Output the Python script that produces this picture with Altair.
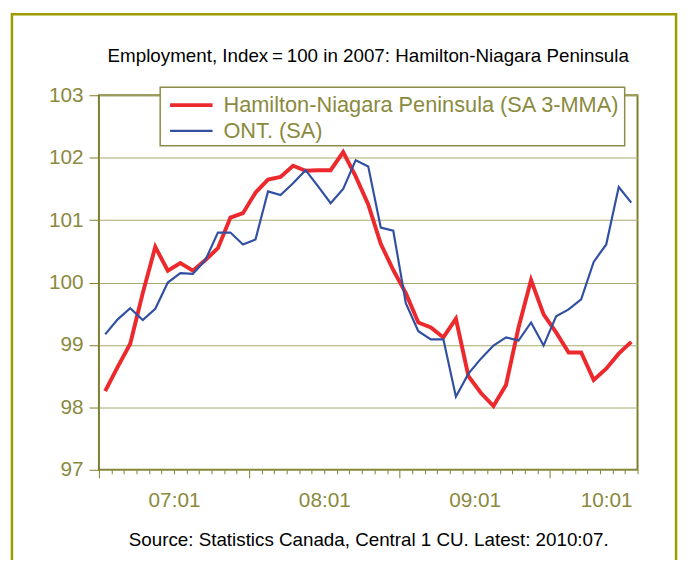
import altair as alt
import pandas as pd

# ---- data ----
months = [f"{y}:{m:02d}" for y in (2007, 2008, 2009, 2010) for m in range(1, 13)][:43]

hamilton = [98.26, 98.65, 99.02, 99.83, 100.57, 100.19, 100.31, 100.19, 100.36, 100.55,
            101.04, 101.11, 101.44, 101.65, 101.69, 101.87, 101.79, 101.80, 101.80, 102.09,
            101.70, 101.25, 100.62, 100.20, 99.83, 99.36, 99.28, 99.12, 99.42, 98.50,
            98.23, 98.02, 98.36, 99.28, 100.04, 99.49, 99.20, 98.88, 98.88, 98.44,
            98.62, 98.86, 99.05]

ontario = [99.17, 99.41, 99.59, 99.40, 99.58, 100.00, 100.15, 100.14, 100.36, 100.80,
           100.80, 100.61, 100.69, 101.46, 101.40, 101.59, 101.80, 101.54, 101.27, 101.50,
           101.96, 101.86, 100.88, 100.83, 99.67, 99.22, 99.09, 99.09, 98.17, 98.54,
           98.78, 98.99, 99.12, 99.07, 99.36, 98.99, 99.46, 99.57, 99.73, 100.33,
           100.61, 101.53, 101.28]

series_names = ["Hamilton-Niagara Peninsula (SA 3-MMA)", "ONT. (SA)"]
series_colors = ["#EC2A2E", "#3150A2"]
series_widths = [4, 2.2]

x_tick_labels = ["07:01", "08:01", "09:01", "10:01"]
y_ticks = [97, 98, 99, 100, 101, 102, 103]

title_text = "Employment, Index\u2009=\u2009100 in 2007: Hamilton-Niagara Peninsula"
source_text = "Source: Statistics Canada, Central 1 CU. Latest: 2010:07."

# ---- tables ----
rows = []
for name, vals in zip(series_names, [hamilton, ontario]):
    for i, (m, v) in enumerate(zip(months, vals)):
        rows.append({"idx": i, "month": m, "series": name, "value": v})
df = pd.DataFrame(rows)
legend_df = pd.DataFrame({"series": series_names})

n = len(months)
boundaries = [i - 0.5 for i in range(n + 1)]
label_expr = " : ".join(
    f"datum.value == {12 * k - 0.5} ? '{lab}'" for k, lab in enumerate(x_tick_labels)
) + " : ''"
last_major = 12 * (len(x_tick_labels) - 1) - 0.5

OLIVE_TXT = "#8A8A3E"
OLIVE_AX = "#7E7E2C"
OLIVE_GRID = "#A8A870"
FONT = "Liberation Sans"

color_scale = alt.Scale(domain=series_names, range=series_colors)
width_scale = alt.Scale(domain=series_names, range=series_widths)

lines = alt.Chart(df).mark_line(clip=True).encode(
    x=alt.X("idx:Q",
            scale=alt.Scale(domain=[-0.5, n - 0.5], nice=False, zero=False),
            axis=alt.Axis(values=boundaries, labelExpr=label_expr,
                          labelOffset={"condition": {"test": f"datum.value == {last_major}", "value": 57},
                                       "value": 76},
                          labelFlush=False, labelOverlap=False,
                          tickSize={"condition": {"test": "(datum.value + 0.5) % 12 == 0", "value": 8},
                                    "value": 4},
                          tickColor=OLIVE_AX, tickWidth=1, domain=False, grid=False,
                          labelColor=OLIVE_TXT, labelFontSize=21, labelFont=FONT, labelPadding=12,
                          title=source_text, titleColor="#000000", titleFontSize=19,
                          titleFont=FONT, titleFontWeight="normal", titlePadding=21)),
    y=alt.Y("value:Q",
            scale=alt.Scale(domain=[97, 103], nice=False, zero=False),
            axis=alt.Axis(values=y_ticks, tickSize=10, tickColor=OLIVE_AX, tickWidth=1,
                          domain=False, grid=True, gridColor=OLIVE_GRID, gridWidth=1,
                          labelColor=OLIVE_TXT, labelFontSize=21, labelFont=FONT,
                          labelPadding=6, title=None)),
    color=alt.Color("series:N", scale=color_scale, legend=None),
    strokeWidth=alt.StrokeWidth("series:N", scale=width_scale, legend=None),
)

# outer olive frame of the figure
frame = alt.Chart(pd.DataFrame({"k": [0]})).mark_rect(
    fill=None, stroke="#9C9C00", strokeWidth=2.5
).encode(x=alt.value(-88), x2=alt.value(584), y=alt.value(-82), y2=alt.value(520))

# legend (box, line samples, labels)
legend_y = alt.Y("series:N",
                 scale=alt.Scale(type="point", domain=series_names, range=[10, 36], padding=0),
                 axis=None)

legend_box = alt.Chart(pd.DataFrame({"k": [0]})).mark_rect(
    fill="#FFFFFF", stroke="#8C8C44", strokeWidth=1.5
).encode(x=alt.value(62), x2=alt.value(532), y=alt.value(-8), y2=alt.value(51))

legend_lines = alt.Chart(legend_df).mark_rule().encode(
    x=alt.value(72), x2=alt.value(115), y=legend_y,
    color=alt.Color("series:N", scale=color_scale, legend=None),
    strokeWidth=alt.StrokeWidth("series:N", scale=width_scale, legend=None),
)

legend_text = alt.Chart(legend_df).mark_text(
    align="left", baseline="middle", font=FONT, fontSize=22, color=OLIVE_TXT
).encode(x=alt.value(126), y=legend_y, text="series:N")

chart = alt.layer(frame, lines, legend_box, legend_lines, legend_text).resolve_scale(
    y="independent"
).properties(
    width=545, height=379,
    padding={"left": 92, "top": 85, "right": 45, "bottom": 88},
    autosize=alt.AutoSizeParams(type="none"),
    title=alt.TitleParams(title_text, fontSize=19, font=FONT, fontWeight="normal",
                          color="#000000", anchor="middle", frame="group", offset=-54),
).configure_view(stroke=OLIVE_AX, strokeWidth=2)

chart.save("out.html", embed_options={"renderer": "svg", "actions": False})
